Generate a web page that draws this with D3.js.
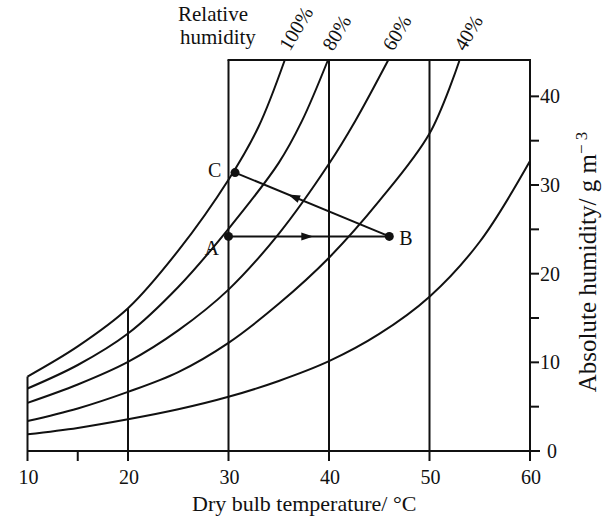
<!DOCTYPE html>
<html>
<head>
<meta charset="utf-8">
<script src="https://cdn.jsdelivr.net/npm/d3@7"></script>
<style>
  body { margin: 0; background: #fff; }
  svg text { font-family: "Liberation Serif", "DejaVu Serif", serif; fill: #111; }
</style>
</head>
<body>
<svg width="608" height="518"></svg>
<script>
// dry bulb temperature (°C) / absolute humidity (g m-3)
var rh100T = [10, 15, 20, 25, 30, 33, 35.6];
var rh100V = [8.4, 11.8, 16.1, 22.6, 30.6, 36.6, 44.1];
var rh80T = [10, 15, 20, 25, 30, 35, 37.3, 39.9];
var rh80V = [7.05, 9.7, 13.25, 18.5, 25.06, 32.5, 37.2, 44.1];
var rh60T = [10, 15, 20, 25, 30, 35, 40, 42.6, 45.9];
var rh60V = [5.43, 7.5, 10.05, 13.6, 18.2, 24.5, 32.4, 37.2, 44.1];
var rh40T = [10, 15, 20, 25, 30, 35, 40, 45, 50, 53];
var rh40V = [3.38, 4.8, 6.67, 8.9, 12.2, 16.6, 21.8, 28.2, 35.8, 44.1];
var rh20T = [10, 15, 20, 25, 30, 35, 40, 45, 50, 55, 60];
var rh20V = [1.88, 2.6, 3.57, 4.7, 6.11, 7.9, 10.13, 13.2, 17.4, 23.6, 32.7];

var rhLabels = ["100%", "80%", "60%", "40%"];
var xTicks = [10, 20, 30, 40, 50, 60];
var xMinorTicks = [15];
var yTicks = [0, 10, 20, 30, 40];
var yMinorTicks = [5, 15, 25, 35];
var boxLines = [30, 40, 50]; // full-height verticals

// process points
var ptNames = ["A", "B", "C"];
var ptT = [30, 46, 30.65];
var ptV = [24.2, 24.2, 31.4];

var svg = d3.select("svg");
var ink = "#111";

var x = d3.scaleLinear().domain([10, 60]).range([27.5, 530]);
var y = d3.scaleLinear().domain([0, 44.1]).range([451, 60]);
var yTop = 44.1;

function zip(ts, vs) { return ts.map((t, i) => [t, vs[i]]); }
var curves = [zip(rh100T, rh100V), zip(rh80T, rh80V), zip(rh60T, rh60V), zip(rh40T, rh40V), zip(rh20T, rh20V)];

var line = d3.line()
  .x(d => x(d[0]))
  .y(d => y(d[1]))
  .curve(d3.curveCatmullRom.alpha(0.5));

var g = svg.append("g")
  .attr("stroke", ink)
  .attr("stroke-width", 2)
  .attr("fill", "none");

// humidity curves
g.selectAll(".rh")
  .data(curves)
  .enter()
  .append("path")
  .attr("class", "rh")
  .attr("d", line);

// verticals at 10 and 20 stop at the 100% curve
[10, 20].forEach(t => {
  var i = rh100T.indexOf(t);
  g.append("line")
    .attr("x1", x(t)).attr("x2", x(t))
    .attr("y1", y(0) + 10).attr("y2", y(rh100V[i]));
});
boxLines.forEach(t => {
  g.append("line")
    .attr("x1", x(t)).attr("x2", x(t))
    .attr("y1", y(0) + 10).attr("y2", y(yTop));
});

// box top
g.append("line")
  .attr("x1", x(30) - 1).attr("x2", x(60) + 1)
  .attr("y1", y(yTop)).attr("y2", y(yTop));

// bottom axis + right axis
g.append("line")
  .attr("x1", x(10)).attr("x2", x(60) + 10)
  .attr("y1", y(0)).attr("y2", y(0));
g.append("line")
  .attr("x1", x(60)).attr("x2", x(60))
  .attr("y1", y(0) + 10).attr("y2", y(yTop));

xMinorTicks.forEach(t => {
  g.append("line")
    .attr("x1", x(t)).attr("x2", x(t))
    .attr("y1", y(0)).attr("y2", y(0) + 10);
});
yTicks.concat(yMinorTicks).forEach(v => {
  g.append("line")
    .attr("x1", x(60)).attr("x2", x(60) + 9)
    .attr("y1", y(v)).attr("y2", y(v));
});

// tick labels
svg.selectAll(".xl")
  .data(xTicks)
  .enter()
  .append("text")
  .attr("class", "xl")
  .attr("x", d => x(d) + 1)
  .attr("y", y(0) + 33)
  .attr("text-anchor", "middle")
  .attr("font-size", 20)
  .text(d => d);

svg.selectAll(".yl")
  .data(yTicks)
  .enter()
  .append("text")
  .attr("class", "yl")
  .attr("x", d => d === 0 ? x(60) + 17 : x(60) + 10)
  .attr("y", d => y(d) + 7)
  .attr("font-size", 20)
  .text(d => d);

svg.append("text")
  .attr("x", 192)
  .attr("y", 511)
  .attr("font-size", 22)
  .text("Dry bulb temperature/ °C");

var yl = svg.append("text")
  .attr("transform", "translate(596,262) rotate(-90)")
  .attr("text-anchor", "middle")
  .attr("font-size", 25);
yl.append("tspan").text("Absolute humidity/ g m");
yl.append("tspan").attr("dy", -9).attr("font-size", 17).text("− 3");

// heading
svg.append("text").attr("x", 178).attr("y", 21).attr("font-size", 21).text("Relative");
svg.append("text").attr("x", 180).attr("y", 44).attr("font-size", 21).text("humidity");

// rotated RH labels, placed where each curve leaves the top of the box
svg.selectAll(".rhl")
  .data(rhLabels)
  .enter()
  .append("text")
  .attr("class", "rhl")
  .attr("font-size", 20)
  .attr("transform", (d, i) => {
    var c = curves[i];
    var t = c[c.length - 1][0];
    return "translate(" + (x(t) + 5) + "," + (y(yTop) - 8) + ") rotate(-59)";
  })
  .text(d => d);

// process lines A -> B -> C
var pts = ptNames.map((n, i) => ({ name: n, px: x(ptT[i]), py: y(ptV[i]) }));
var A = pts[0], B = pts[1], C = pts[2];

[[A, B], [B, C]].forEach(s => {
  g.append("line")
    .attr("x1", s[0].px).attr("y1", s[0].py)
    .attr("x2", s[1].px).attr("y2", s[1].py);
});

function arrow(p, q, f) {
  var mx = p.px + (q.px - p.px) * f;
  var my = p.py + (q.py - p.py) * f;
  var ang = Math.atan2(q.py - p.py, q.px - p.px) * 180 / Math.PI;
  svg.append("path")
    .attr("d", "M6,0 L-6,-4 L-6,4 Z")
    .attr("fill", ink)
    .attr("transform", "translate(" + mx + "," + my + ") rotate(" + ang + ")");
}
arrow(A, B, 0.49);
arrow(B, C, 0.62);

svg.selectAll(".pt")
  .data(pts)
  .enter()
  .append("circle")
  .attr("class", "pt")
  .attr("cx", d => d.px)
  .attr("cy", d => d.py)
  .attr("r", 4.5)
  .attr("fill", ink);

var lblOff = { A: [-24, 19], B: [10, 9], C: [-27, 4] };
svg.selectAll(".ptl")
  .data(pts)
  .enter()
  .append("text")
  .attr("class", "ptl")
  .attr("x", d => d.px + lblOff[d.name][0])
  .attr("y", d => d.py + lblOff[d.name][1])
  .attr("font-size", 20)
  .text(d => d.name);
</script>
</body>
</html>
